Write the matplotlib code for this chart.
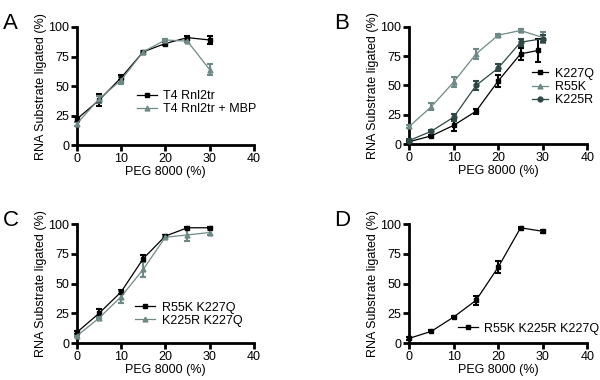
import matplotlib.pyplot as plt

plt.rcParams["font.family"] = ["Liberation Sans", "DejaVu Sans"]

peg = [0, 5, 10, 15, 20, 25, 30]

# panel A
a_t4 = [22, 38, 57, 79, 86, 91, 89]
a_t4_err = [2, 5, 2, 1, 1, 1, 3]
a_mbp = [18, 39, 55, 79, 89, 88, 64]
a_mbp_err = [2, 3, 3, 1, 1, 1, 5]

# panel B
b_k227q_x = [0, 5, 10, 15, 20, 25, 29]
b_k227q = [2, 7, 16, 28, 54, 77, 80]
b_k227q_err = [1, 1, 5, 2, 5, 5, 10]
b_r55k = [15, 32, 53, 77, 93, 97, 91]
b_r55k_err = [1, 3, 4, 4, 1, 1, 5]
b_k225r = [3, 11, 23, 50, 65, 87, 90]
b_k225r_err = [1, 1, 3, 4, 3, 3, 3]

# panel C
c_r55k_k227q = [9, 25, 43, 71, 90, 97, 97]
c_r55k_k227q_err = [1, 4, 2, 3, 1, 1, 1]
c_k225r_k227q = [6, 21, 39, 62, 89, 91, 93]
c_k225r_k227q_err = [1, 1, 5, 6, 1, 5, 2]

# panel D
d_triple = [4, 10, 22, 36, 64, 97, 94]
d_triple_err = [1, 1, 1, 4, 5, 1, 1]

BLACK = "#000000"
GRAY = "#6f8a86"
DARK = "#2f4846"

fig = plt.figure(figsize=(6, 3.8), dpi=100)

posicoes = {
    "A": [0.128, 0.618, 0.295, 0.311],
    "B": [0.682, 0.621, 0.297, 0.308],
    "C": [0.128, 0.097, 0.295, 0.313],
    "D": [0.682, 0.097, 0.297, 0.313],
}

def preparar_eixo(letra):
    ax = fig.add_axes(posicoes[letra])
    ax.set_xlim(0, 40)
    ax.set_ylim(0, 100)
    ax.set_xticks([0, 10, 20, 30, 40])
    ax.set_yticks([0, 25, 50, 75, 100])
    for lado in ["top", "right"]:
        ax.spines[lado].set_visible(False)
    for lado in ["left", "bottom"]:
        ax.spines[lado].set_linewidth(2)
    ax.tick_params(width=2, length=4, labelsize=9, pad=1.5)
    ax.set_xlabel("PEG 8000 (%)", fontsize=9, labelpad=1)
    ax.set_ylabel("RNA Substrate ligated (%)", fontsize=9, labelpad=1)
    ax.text(-0.42, 1.12, letra, transform=ax.transAxes, fontsize=16,
            va="top", ha="left")
    return ax

def serie(ax, x, y, err, cor, marcador, rotulo, ms=3.5):
    cont = ax.errorbar(x, y, yerr=err, color=cor, marker=marcador, ms=ms,
                       lw=0.9, elinewidth=1.5, capsize=2.5, capthick=1.5,
                       clip_on=False, zorder=3)
    linha = cont[0]
    linha.set_label(rotulo)
    return linha

def legenda(ax, linhas, ancora, hl=1.6):
    ax.legend(handles=linhas, loc="lower right", bbox_to_anchor=ancora,
              frameon=False, fontsize=9, handlelength=hl, labelspacing=0.1,
              borderpad=0, handletextpad=0.5)

ax = preparar_eixo("A")
l1 = serie(ax, peg, a_t4, a_t4_err, BLACK, "s", "T4 Rnl2tr")
l2 = serie(ax, peg, a_mbp, a_mbp_err, GRAY, "^", "T4 Rnl2tr + MBP")
legenda(ax, [l1, l2], (1.05, 0.2))

ax = preparar_eixo("B")
l1 = serie(ax, b_k227q_x, b_k227q, b_k227q_err, BLACK, "s", "K227Q")
l2 = serie(ax, peg, b_r55k, b_r55k_err, GRAY, "^", "R55K")
l3 = serie(ax, peg, b_k225r, b_k225r_err, DARK, "o", "K225R")
legenda(ax, [l1, l2, l3], (1.07, 0.27), hl=1.3)

ax = preparar_eixo("C")
l1 = serie(ax, peg, c_r55k_k227q, c_r55k_k227q_err, BLACK, "s", "R55K K227Q")
l2 = serie(ax, peg, c_k225r_k227q, c_k225r_k227q_err, GRAY, "^", "K225R K227Q")
legenda(ax, [l1, l2], (0.97, 0.085))

ax = preparar_eixo("D")
l1 = serie(ax, peg, d_triple, d_triple_err, BLACK, "s", "R55K K225R K227Q")
legenda(ax, [l1], (1.10, 0.02), hl=1.6)

fig.savefig("out.png", dpi=100)
